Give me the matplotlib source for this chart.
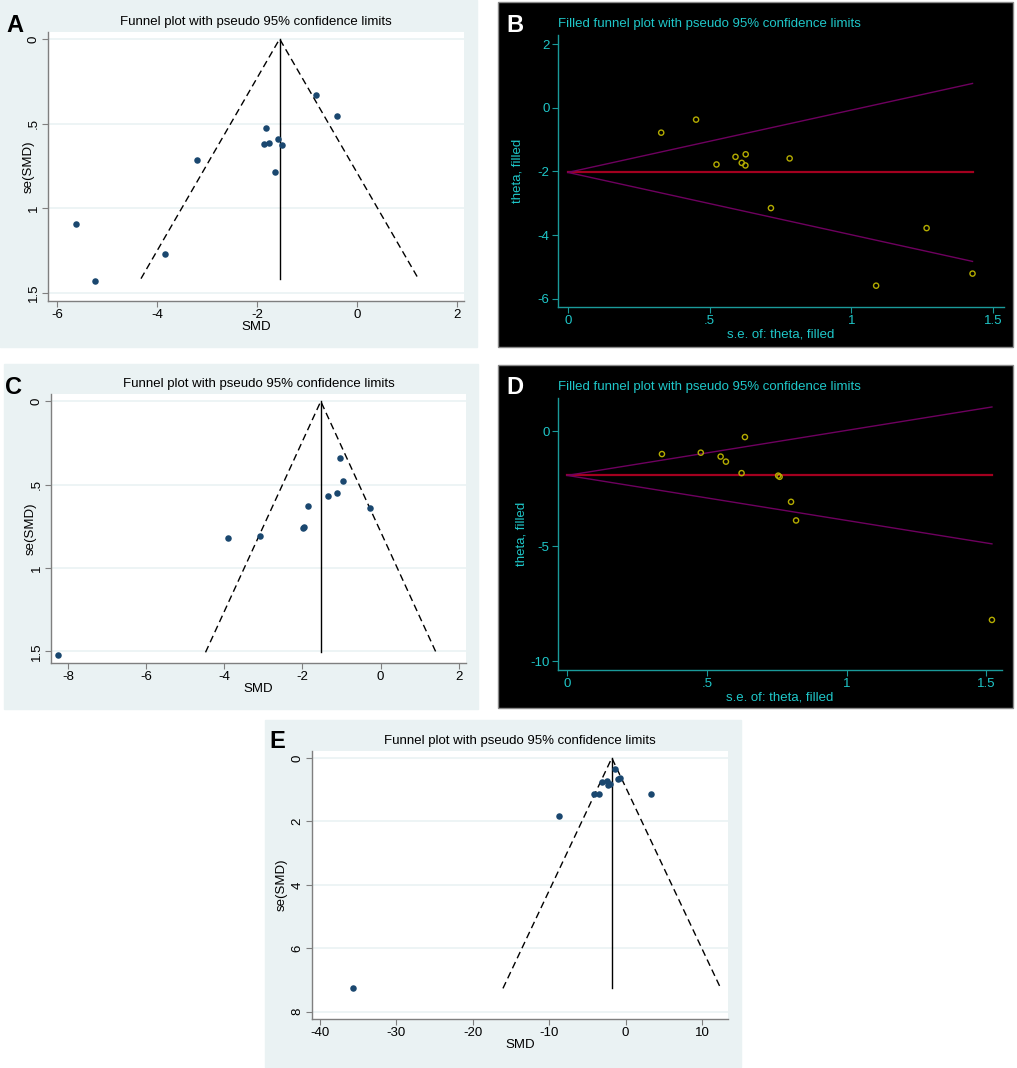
import matplotlib
matplotlib.use("Agg")
import matplotlib.pyplot as plt
from matplotlib.patches import Rectangle
import numpy as np

plt.rcParams['font.family'] = ['Liberation Sans', 'DejaVu Sans']

W, H = 1017, 1068

# ---------------- data ----------------
# Panel A (funnel plot)
a_smd = [-0.81, -0.39, -1.82, -1.57, -1.75, -1.85, -1.49, -3.19, -1.63, -5.63, -3.83, -5.25]
a_se = [0.331, 0.453, 0.524, 0.593, 0.613, 0.623, 0.627, 0.716, 0.785, 1.090, 1.267, 1.431]
a_theta, a_semax = -1.547, 1.415

# Panel B (filled funnel)
b_se = [0.329, 0.452, 0.524, 0.591, 0.627, 0.613, 0.626, 0.782, 0.716, 1.265, 1.087, 1.427]
b_theta = [-0.78, -0.37, -1.78, -1.54, -1.46, -1.73, -1.81, -1.59, -3.15, -3.78, -5.59, -5.21]
b_fixed, b_semax = -2.03, 1.427

# Panel C (funnel plot)
c_smd = [-1.03, -0.97, -1.12, -1.34, -1.85, -0.27, -1.99, -1.95, -3.09, -3.91, -8.26]
c_se = [0.340, 0.478, 0.550, 0.570, 0.626, 0.638, 0.760, 0.754, 0.806, 0.818, 1.522]
c_theta, c_semax = -1.53, 1.506

# Panel D (filled funnel)
d_se = [0.339, 0.478, 0.549, 0.568, 0.636, 0.624, 0.755, 0.760, 0.801, 0.819, 1.520]
d_theta = [-0.99, -0.93, -1.10, -1.32, -0.25, -1.82, -1.93, -1.98, -3.07, -3.88, -8.21]
d_fixed, d_semax = -1.92, 1.52

# Panel E (funnel plot)
e_smd = [-1.44, -1.05, -0.66, -3.10, -2.45, -2.23, -2.01, -4.06, -3.41, 3.27, -8.73, -35.68]
e_se = [0.336, 0.672, 0.640, 0.756, 0.735, 0.860, 0.810, 1.134, 1.134, 1.144, 1.816, 7.265]
e_theta, e_semax = -1.79, 7.265

funnel_title = "Funnel plot with pseudo 95% confidence limits"
filled_title = "Filled funnel plot with pseudo 95% confidence limits"

fig = plt.figure(figsize=(W / 100, H / 100), dpi=100)
fig.patch.set_facecolor('white')


def rect(l, t, r, b):
    return [l / W, 1 - b / H, (r - l) / W, (b - t) / H]


def bg(l, t, r, b, color, edge=None):
    fig.patches.append(Rectangle((l / W, 1 - b / H), (r - l) / W, (b - t) / H,
                                 transform=fig.transFigure, facecolor=color,
                                 edgecolor=edge if edge else color, lw=1, zorder=-5))


STATA_BG = '#eaf2f3'
NAVY = '#1a476f'
CYAN = '#1fc7c9'
TEAL = '#1a9a9a'


def funnel(box, xlim, ylim, xticks, xlabels, yticks, ylabels, smd, se, theta, semax, letter, letterpos,
           ylpad=-3):
    ax = fig.add_axes(rect(*box))
    ax.set_facecolor('white')
    ax.set_xlim(*xlim)
    ax.set_ylim(*ylim)
    for s in ['top', 'right']:
        ax.spines[s].set_visible(False)
    for s in ['left', 'bottom']:
        ax.spines[s].set_color('#7f7f7f')
        ax.spines[s].set_linewidth(1.0)
    ax.set_xticks(xticks)
    ax.set_xticklabels(xlabels, fontsize=9.5)
    ax.set_yticks(yticks)
    ax.set_yticklabels(ylabels, fontsize=9.5, rotation=90, va='center')
    ax.tick_params(axis='both', colors='#7f7f7f', length=4, width=0.8, labelcolor='black', pad=2)
    for yt in yticks:
        ax.axhline(yt, color=STATA_BG, lw=1.2, zorder=0)
    ax.plot([theta - 1.96 * semax, theta, theta + 1.96 * semax], [semax, 0, semax],
            color='black', lw=1.0, ls=(0, (5, 3)), zorder=2)
    ax.plot([theta, theta], [0, semax], color='black', lw=1.0, zorder=2)
    ax.scatter(smd, se, s=22, color=NAVY, zorder=3, linewidths=0)
    ax.set_xlabel('SMD', fontsize=9.5, labelpad=0)
    ax.set_ylabel('se(SMD)', fontsize=9.5, labelpad=ylpad)
    ax.set_title(funnel_title, fontsize=9.5, pad=5)
    fig.text(letterpos[0] / W, 1 - letterpos[1] / H, letter, fontsize=17, fontweight='bold',
             ha='center', va='center', color='black')
    return ax


def filled(box, xlim, ylim, yticks, ylabels, se, th, fixed, semax, letter, letterpos, ylpad=2):
    ax = fig.add_axes(rect(*box))
    ax.set_facecolor('black')
    ax.set_xlim(*xlim)
    ax.set_ylim(*ylim)
    for s in ['top', 'right']:
        ax.spines[s].set_visible(False)
    for s in ['left', 'bottom']:
        ax.spines[s].set_color(TEAL)
        ax.spines[s].set_linewidth(1.0)
    ax.set_xticks([0, 0.5, 1, 1.5])
    ax.set_xticklabels(['0', '.5', '1', '1.5'], fontsize=9.5)
    ax.set_yticks(yticks)
    ax.set_yticklabels(ylabels, fontsize=9.5)
    ax.tick_params(axis='both', colors=TEAL, length=4, width=0.8, labelcolor=CYAN, pad=2)
    ax.plot([0, semax], [fixed, fixed], color='#a3001f', lw=1.6, zorder=2)
    ax.plot([0, semax], [fixed, fixed + 1.96 * semax], color='#6e005f', lw=1.0, zorder=2)
    ax.plot([0, semax], [fixed, fixed - 1.96 * semax], color='#6e005f', lw=1.0, zorder=2)
    ax.scatter(se, th, s=14, facecolors='none', edgecolors='#b4ac00', linewidths=1.0, zorder=3)
    ax.set_xlabel('s.e. of: theta, filled', fontsize=9.5, color=CYAN, labelpad=1)
    ax.set_ylabel('theta, filled', fontsize=9.5, color=CYAN, labelpad=ylpad)
    ax.set_title(filled_title, fontsize=9.5, color=CYAN, loc='left', pad=6)
    fig.text(letterpos[0] / W, 1 - letterpos[1] / H, letter, fontsize=17, fontweight='bold',
             ha='center', va='center', color='white')
    return ax


# backgrounds
bg(0, 0, 477, 347, STATA_BG)
bg(4, 364, 478, 709, STATA_BG)
bg(265, 720, 741, 1067, STATA_BG)
bg(498, 2, 1013, 347, 'black', edge='#8a8a8a')
bg(498, 365, 1013, 708, 'black', edge='#8a8a8a')

funnel((48, 32, 464, 301), (-6.18, 2.14), (1.547, -0.041),
       [-6, -4, -2, 0, 2], ['-6', '-4', '-2', '0', '2'],
       [0, 0.5, 1, 1.5], ['0', '.5', '1', '1.5'],
       a_smd, a_se, a_theta, a_semax, 'A', (15, 25), ylpad=-5)

filled((558, 35, 1004, 307), (-0.035, 1.538), (-6.26, 2.29),
       [-6, -4, -2, 0, 2], ['-6', '-4', '-2', '0', '2'],
       b_se, b_theta, b_fixed, b_semax, 'B', (515, 25), ylpad=10)

funnel((51, 394, 466, 663), (-8.44, 2.19), (1.57, -0.044),
       [-8, -6, -4, -2, 0, 2], ['-8', '-6', '-4', '-2', '0', '2'],
       [0, 0.5, 1, 1.5], ['0', '.5', '1', '1.5'],
       c_smd, c_se, c_theta, c_semax, 'C', (13, 387), ylpad=-4)

filled((558, 398, 1002, 670), (-0.033, 1.556), (-10.39, 1.45),
       [-10, -5, 0], ['-10', '-5', '0'],
       d_se, d_theta, d_fixed, d_semax, 'D', (515, 387), ylpad=2)

funnel((312, 751, 728, 1019), (-41.0, 13.4), (8.23, -0.22),
       [-40, -30, -20, -10, 0, 10], ['-40', '-30', '-20', '-10', '0', '10'],
       [0, 2, 4, 6, 8], ['0', '2', '4', '6', '8'],
       e_smd, e_se, e_theta, e_semax, 'E', (277, 742), ylpad=3)

fig.savefig('out.png', dpi=100, facecolor='white')
